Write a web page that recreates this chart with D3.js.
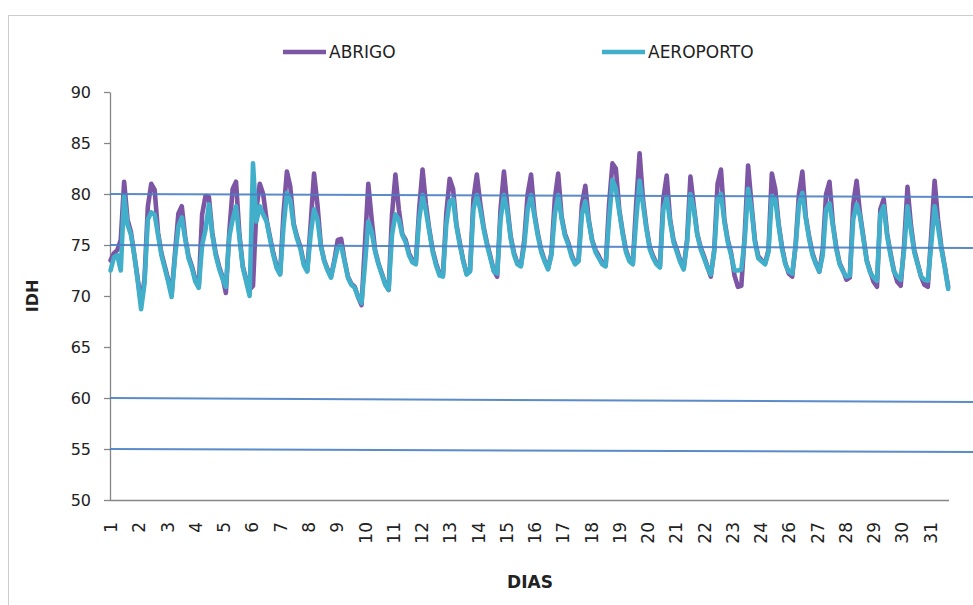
<!DOCTYPE html>
<html>
<head>
<meta charset="utf-8">
<script src="https://cdn.jsdelivr.net/npm/d3@7"></script>
<style>
  body { margin: 0; background: #ffffff; }
  svg { display: block; }
</style>
</head>
<body>
<svg id="chart" width="973" height="605"></svg>
<script>
// Day labels printed on the category axis (one label every 25 hourly readings)
const dayLabels = ["1","2","3","4","5","6","7","8","9","10","11","12","13","14","15","16",
  "17","18","19","20","21","22","23","24","26","27","28","29","30","31"];
const labelEvery = 25;          // hourly readings between axis labels
const totalHours = 744;         // 31 days of hourly readings
const sampleStep = 3;           // readings below are taken every 3 hours (00h, 03h, ... 21h)

// IDH readings, station ABRIGO (8 per day)
const abrigo = [
  73.5, 74.2, 74.5, 75.5, 81.2, 77.5, 76.3, 74.0,
  71.7, 69.3, 71.6, 78.8, 81.0, 80.4, 76.2, 74.2,
  72.9, 71.6, 70.2, 74.2, 78.1, 78.8, 75.8, 73.9,
  72.9, 71.6, 70.9, 78.0, 79.8, 79.7, 76.2, 74.2,
  72.9, 71.9, 70.3, 76.2, 80.5, 81.2, 76.0, 72.9,
  71.6, 70.6, 71.0, 78.5, 81.0, 80.0, 77.5, 75.8,
  74.2, 72.9, 72.2, 78.1, 82.2, 80.7, 77.1, 75.8,
  74.8, 73.2, 72.5, 77.0, 82.0, 79.0, 75.0, 73.5,
  72.6, 71.9, 73.5, 75.5, 75.6, 73.5, 71.9, 71.2,
  70.9, 69.9, 69.1, 75.0, 81.0, 77.5, 74.5, 73.2,
  72.2, 71.2, 70.6, 78.0, 81.9, 78.5, 76.1, 75.5,
  74.2, 73.5, 73.2, 78.5, 82.4, 79.0, 76.5, 74.5,
  73.2, 72.2, 72.0, 78.1, 81.5, 80.5, 77.0, 75.2,
  73.5, 72.2, 72.5, 79.5, 81.9, 79.1, 76.8, 75.2,
  73.9, 72.5, 71.9, 78.5, 82.2, 78.8, 75.8, 74.2,
  73.2, 73.0, 75.5, 80.0, 81.9, 78.1, 76.1, 74.5,
  73.5, 72.7, 74.2, 79.5, 82.0, 77.8, 76.1, 75.2,
  74.0, 73.2, 73.5, 79.0, 80.8, 77.5, 75.5, 74.5,
  73.9, 73.2, 73.0, 79.0, 83.0, 82.5, 78.5, 76.3,
  74.5, 73.5, 73.2, 79.0, 84.0, 79.5, 76.8, 74.8,
  73.9, 73.2, 72.9, 79.5, 81.8, 77.5, 75.5, 74.5,
  73.5, 72.7, 75.5, 81.7, 78.8, 76.1, 74.8, 73.9,
  72.9, 71.9, 74.5, 81.0, 82.4, 77.5, 75.5, 74.2,
  72.0, 70.9, 71.0, 76.0, 82.8, 79.0, 75.5, 73.9,
  73.5, 73.2, 74.5, 82.0, 80.5, 77.1, 74.8, 73.2,
  72.2, 71.9, 75.0, 80.0, 82.2, 77.8, 75.8, 74.2,
  73.2, 72.4, 74.5, 80.0, 81.2, 77.1, 74.8, 73.2,
  72.5, 71.6, 71.8, 79.0, 81.3, 78.1, 75.8, 73.5,
  72.4, 71.4, 70.9, 78.5, 79.5, 76.1, 74.2, 72.5,
  71.4, 71.0, 75.0, 80.7, 77.0, 74.5, 73.2, 71.9,
  71.1, 70.9, 76.0, 81.3, 77.5, 74.8, 72.9, 70.9
];

// IDH readings, station AEROPORTO (8 per day)
const aeroporto = [
  72.5, 73.8, 74.0, 72.5, 79.8, 77.0, 76.0, 74.0,
  71.5, 68.7, 71.2, 77.5, 78.2, 78.0, 76.0, 74.0,
  72.7, 71.4, 69.9, 73.8, 76.8, 77.7, 75.6, 73.7,
  72.7, 71.4, 70.8, 75.0, 76.5, 79.0, 76.0, 74.0,
  72.7, 71.7, 70.9, 75.8, 77.5, 78.8, 75.7, 72.8,
  71.4, 70.0, 83.0, 77.3, 78.8, 78.0, 77.3, 75.6,
  74.0, 72.7, 72.1, 76.8, 80.1, 79.4, 76.9, 75.6,
  74.6, 73.0, 72.4, 76.0, 78.5, 77.5, 74.9, 73.4,
  72.5, 71.8, 73.3, 74.8, 74.9, 73.4, 71.8, 71.1,
  70.8, 69.9, 69.3, 73.0, 77.3, 76.3, 74.4, 73.1,
  72.1, 71.1, 70.6, 76.0, 78.0, 77.5, 76.0, 75.3,
  74.0, 73.3, 73.1, 77.5, 79.9, 78.3, 76.3, 74.3,
  73.0, 72.0, 71.9, 77.0, 79.3, 79.5, 76.8, 75.0,
  73.4, 72.1, 72.4, 78.5, 79.9, 78.5, 76.6, 75.0,
  73.7, 72.4, 72.2, 77.5, 79.9, 78.3, 75.6, 74.0,
  73.1, 72.9, 75.0, 78.5, 79.9, 77.8, 75.9, 74.3,
  73.4, 72.6, 74.0, 78.0, 79.9, 77.6, 75.9, 75.0,
  73.8, 73.1, 73.4, 78.0, 79.3, 77.3, 75.4, 74.3,
  73.7, 73.1, 72.9, 77.5, 81.4, 80.5, 78.3, 76.1,
  74.3, 73.4, 73.1, 77.5, 81.3, 79.0, 76.6, 74.6,
  73.7, 73.1, 72.8, 78.5, 79.7, 77.3, 75.3, 74.3,
  73.3, 72.6, 75.2, 80.0, 78.5, 76.0, 74.6, 73.7,
  72.8, 72.1, 74.3, 79.5, 80.0, 77.3, 75.3, 74.0,
  72.5, 72.5, 72.6, 75.5, 80.5, 78.5, 75.3, 73.7,
  73.4, 73.1, 74.3, 79.8, 79.5, 76.9, 74.6, 73.1,
  72.4, 72.2, 74.8, 79.0, 80.1, 77.6, 75.6, 74.0,
  73.1, 72.4, 74.0, 78.5, 79.1, 76.9, 74.6, 73.1,
  72.4, 71.9, 72.0, 77.5, 79.0, 77.8, 75.6, 73.4,
  72.3, 71.8, 71.5, 78.0, 78.8, 75.9, 74.0, 72.4,
  71.9, 71.6, 74.5, 78.8, 76.5, 74.3, 73.1, 71.9,
  71.6, 71.5, 75.0, 78.8, 76.8, 74.6, 72.8, 70.7
];

// Comfort limit lines (value at the left edge and at the right edge)
const limitsLeft  = [80, 75, 60, 55];
const limitsRight = [79.7, 74.7, 59.6, 54.7];

const yTicks = [50, 55, 60, 65, 70, 75, 80, 85, 90];
const seriesNames = ["ABRIGO", "AEROPORTO"];
const seriesColors = ["#7d55a5", "#42afca"];

const svg = d3.select("#chart");
const FONT = "'DejaVu Sans', sans-serif";
const AXIS_GREY = "#868686";

// outer dotted frame
svg.append("rect")
  .attr("x", 8.5).attr("y", 15.5)
  .attr("width", 1000).attr("height", 700)
  .attr("fill", "none")
  .attr("stroke", "#9a9a9a")
  .attr("stroke-width", 1)
  .attr("stroke-dasharray", "1,1");

const x = d3.scaleLinear().domain([0, totalHours]).range([110, 951]);
const y = d3.scaleLinear().domain([50, 90]).range([500, 92]);

// Y axis
const yAxis = svg.append("g")
  .attr("transform", "translate(110,0)")
  .call(d3.axisLeft(y).tickValues(yTicks).tickSize(6).tickSizeOuter(0).tickPadding(13));
yAxis.select(".domain").attr("stroke", AXIS_GREY).attr("stroke-width", 1.3);
yAxis.selectAll(".tick line").attr("stroke", AXIS_GREY).attr("stroke-width", 1.3);
yAxis.selectAll(".tick text")
  .attr("font-family", FONT).attr("font-size", 16).attr("fill", "#222");

// X axis (category labels, rotated)
const tickHours = dayLabels.map((_, i) => i * labelEvery + 0.5);
const xAxis = svg.append("g")
  .attr("transform", "translate(0,500)")
  .call(d3.axisBottom(x).tickValues(tickHours).tickSize(0).tickSizeOuter(0)
    .tickFormat((d, i) => dayLabels[i]));
xAxis.select(".domain").attr("stroke", AXIS_GREY).attr("stroke-width", 1.3)
  .attr("d", `M110,0.5H949`);
xAxis.selectAll(".tick text")
  .attr("font-family", FONT).attr("font-size", 17).attr("fill", "#222")
  .attr("transform", "rotate(-90)")
  .attr("text-anchor", "end")
  .attr("x", -22).attr("y", 0).attr("dy", "0.36em");

// Axis titles
svg.append("text")
  .attr("transform", "translate(38,296) rotate(-90)")
  .attr("text-anchor", "middle")
  .attr("font-family", FONT).attr("font-weight", "bold").attr("font-size", 16)
  .attr("fill", "#222")
  .text("IDH");
svg.append("text")
  .attr("x", 530).attr("y", 588)
  .attr("text-anchor", "middle")
  .attr("font-family", FONT).attr("font-weight", "bold").attr("font-size", 17)
  .attr("fill", "#222")
  .text("DIAS");

// Series lines
const line = d3.line()
  .x((d, i) => x(i * sampleStep + 0.5))
  .y(d => y(d));

[abrigo, aeroporto].forEach((values, k) => {
  svg.append("path")
    .datum(values)
    .attr("fill", "none")
    .attr("stroke", seriesColors[k])
    .attr("stroke-width", 4.6)
    .attr("stroke-linejoin", "round")
    .attr("stroke-linecap", "round")
    .attr("d", line);
});

// Comfort limit lines across the plot
limitsLeft.forEach((v, i) => {
  svg.append("line")
    .attr("x1", 110).attr("y1", y(v))
    .attr("x2", 973).attr("y2", y(limitsRight[i]))
    .attr("stroke", "#4a7fc4")
    .attr("stroke-width", 2)
    .attr("opacity", 0.9);
});

// Legend
const legendX = [283, 602];
seriesNames.forEach((name, k) => {
  const g = svg.append("g").attr("transform", `translate(${legendX[k]},52)`);
  g.append("line")
    .attr("x1", 0).attr("x2", 43).attr("y1", 0).attr("y2", 0)
    .attr("stroke", seriesColors[k]).attr("stroke-width", 4.5);
  g.append("text")
    .attr("x", 46).attr("y", 0).attr("dy", "0.36em")
    .attr("font-family", FONT).attr("font-size", 17).attr("fill", "#222")
    .text(name);
});
</script>
</body>
</html>
